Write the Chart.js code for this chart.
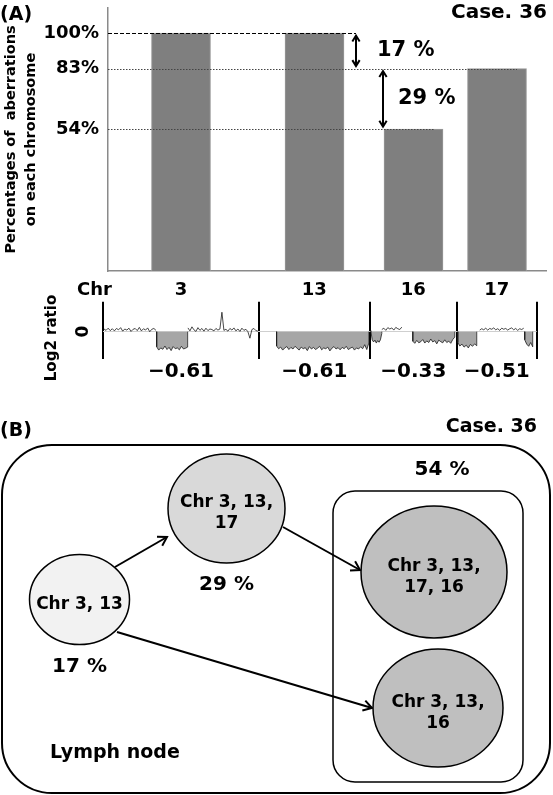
<!DOCTYPE html>
<html>
<head>
<meta charset="utf-8">
<script src="https://cdn.jsdelivr.net/npm/chart.js@4.4.0/dist/chart.umd.min.js"></script>
<style>
  body { margin: 0; background: #fff; }
  #wrap { position: relative; width: 553px; height: 795px; }
  canvas { position: absolute; left: 0; }
</style>
</head>
<body>
<div id="wrap">
  <canvas id="bars" width="553" height="276" style="top:0"></canvas>
  <canvas id="log2" width="553" height="119" style="top:276px"></canvas>
  <canvas id="tree" width="553" height="400" style="top:395px"></canvas>
</div>
<script>
// ---- data (A) ----
const chromosomes = ['3', '13', '16', '17'];
const aberrationPct = [100, 100, 54, 83];
const meanLog2 = [-0.61, -0.61, -0.33, -0.51];
const chrLength = [156, 111, 87, 80];   // relative length of each chromosome on the genome axis
const pctTicks = [100, 83, 54];
const stepLabels = ['17 %', '29 %'];

// copy-number segments: chromosome index, start/end inside chromosome, loss or not, log2 trace
const segChr  = [0, 0, 0, 1, 2, 2, 2, 3, 3, 3];
const segFrom = [1, 53.7, 85, 17.7, 1, 12, 43, 1, 23, 68];
const segTo   = [53, 84.7, 155, 110, 12, 32, 85, 20, 67, 76];
const segLoss = [false, true, false, true, true, false, true, true, false, true];
const segLog2 = [
  [0.10,0.05,0.13,0.04,0.11,0.03,0.12,0.07,0.15,0.02,0.10,0.06,0.13,0.01,0.09,0.12,0.04,0.16,0.03,0.11,0.06,0.14,0.00,0.09,0.12,0.05],
  [-0.56,-0.68,-0.60,-0.65,-0.53,-0.66,-0.58,-0.70,-0.55,-0.63,-0.60,-0.67,-0.54,-0.64,-0.61,-0.57],
  [0.14,0.03,0.18,0.07,0.01,0.15,0.05,0.12,0.02,0.13,0.04,0.10,0.08,0.03,0.12,0.06,0.10,0.72,0.05,0.09,0.02,0.12,0.06,0.14,0.03,0.10,0.01,0.13,0.05,0.09,0.00,-0.24,0.08,0.12,0.04,0.02],
  [-0.53,-0.63,-0.57,-0.68,-0.60,-0.55,-0.66,-0.58,-0.64,-0.54,-0.61,-0.68,-0.57,-0.63,-0.59,-0.70,-0.55,-0.64,-0.58,-0.66,-0.61,-0.54,-0.67,-0.60,-0.63,-0.57,-0.71,-0.61,-0.55,-0.64,-0.59,-0.67,-0.58,-0.63,-0.54,-0.66,-0.61,-0.57,-0.68,-0.60,-0.64,-0.56,-0.63,-0.48,-0.66,-0.42],
  [0.04,-0.30,-0.38,-0.31,-0.42,-0.33,-0.39,-0.30,-0.06],
  [0.08,0.13,0.05,0.15,0.10,0.14,0.06,0.16,0.11,0.08,0.17],
  [-0.35,-0.43,-0.32,-0.41,-0.37,-0.29,-0.42,-0.34,-0.40,-0.27,-0.38,-0.33,-0.45,-0.31,-0.37,-0.41,-0.30,-0.40,-0.35,-0.43,-0.29,-0.20],
  [-0.40,-0.53,-0.46,-0.57,-0.50,-0.60,-0.47,-0.54,-0.45,-0.52],
  [0.06,0.11,0.07,0.13,0.06,0.12,0.09,0.14,0.07,0.11,0.05,0.13,0.09,0.12,0.06,0.11,0.14,0.07,0.12,0.05,0.11,0.08,0.13],
  [-0.30,-0.46,-0.54,-0.40,-0.56]
];

// ---- data (B) ----
const nodeLabels = [['Chr 3, 13'], ['Chr 3, 13,', '17'], ['Chr 3, 13,', '17, 16'], ['Chr 3, 13,', '16']];
const nodePct = ['17 %', '29 %', '', ''];
const edgeFrom = [0, 1, 0];
const edgeTo = [1, 2, 3];
const groupPct = '54 %';

const FONT = '"DejaVu Sans", Verdana, sans-serif';

const chrStart = chrLength.map((_, i) => chrLength.slice(0, i).reduce((a, b) => a + b, 0));
const chrMid = chrStart.map((s, i) => s + chrLength[i] / 2);
const genomeEnd = chrStart[chrStart.length - 1] + chrLength[chrLength.length - 1];

function txt(ctx, s, x, y, size, align, rot) {
  ctx.save();
  ctx.translate(x, y);
  ctx.rotate(rot || 0);
  ctx.font = 'bold ' + size + 'px ' + FONT;
  ctx.fillStyle = '#000';
  ctx.textAlign = align || 'center';
  ctx.textBaseline = 'middle';
  ctx.fillText(s, 0, 0);
  ctx.restore();
}

function arrowHead(ctx, x1, y1, x2, y2, len) {
  const a = Math.atan2(y2 - y1, x2 - x1);
  ctx.beginPath();
  ctx.moveTo(x2 - len * Math.cos(a - 0.55), y2 - len * Math.sin(a - 0.55));
  ctx.lineTo(x2, y2);
  ctx.lineTo(x2 - len * Math.cos(a + 0.55), y2 - len * Math.sin(a + 0.55));
  ctx.stroke();
}

function noPad(s) {
  s.paddingTop = 0; s.paddingBottom = 0; s.paddingLeft = 0; s.paddingRight = 0;
}

// ---------- (A) bars ----------
const arrowAt = [253, 280];      // genome-axis position of the two step arrows
const labelShift = [21, 15];

const barNotes = {
  id: 'barNotes',
  afterDatasetsDraw(chart) {
    const { ctx, chartArea, scales: { x, y } } = chart;
    const meta = chart.getDatasetMeta(0);
    ctx.save();
    // reference lines
    pctTicks.forEach((lvl, k) => {
      const yy = Math.round(y.getPixelForValue(lvl)) + 0.5;
      let end;
      if (k === 0) end = x.getPixelForValue(arrowAt[0]);
      else end = meta.data[aberrationPct.lastIndexOf(lvl)].x + 20;
      ctx.beginPath();
      ctx.setLineDash(k === 0 ? [4, 2] : [1.5, 1.5]);
      ctx.strokeStyle = k === 0 ? '#000' : '#444';
      ctx.lineWidth = 1;
      ctx.moveTo(chartArea.left, yy);
      ctx.lineTo(end, yy);
      ctx.stroke();
    });
    ctx.setLineDash([]);
    // step arrows
    ctx.strokeStyle = '#000';
    ctx.lineWidth = 2;
    for (let k = 0; k < pctTicks.length - 1; k++) {
      const ax = x.getPixelForValue(arrowAt[k]);
      const y1 = y.getPixelForValue(pctTicks[k]) + 2.5;
      const y2 = y.getPixelForValue(pctTicks[k + 1]) - 2.5;
      ctx.beginPath();
      ctx.moveTo(ax, y1);
      ctx.lineTo(ax, y2);
      ctx.stroke();
      arrowHead(ctx, ax, y2, ax, y1, 7);
      arrowHead(ctx, ax, y1, ax, y2, 7);
      txt(ctx, stepLabels[k], ax + labelShift[k], (y1 + y2) / 2, 21, 'left');
    }
    txt(ctx, '(A)', 0, 15, 19, 'left');
    txt(ctx, 'Case. 36', 547, 13, 20, 'right');
    ctx.restore();
  }
};

new Chart(document.getElementById('bars'), {
  type: 'bar',
  data: {
    datasets: [{
      data: chromosomes.map((c, i) => ({ x: chrMid[i], y: aberrationPct[i] })),
      backgroundColor: '#7f7f7f',
      borderColor: '#999999',
      borderWidth: 1,
      barThickness: 59,
      base: -13.9
    }]
  },
  options: {
    responsive: false,
    animation: false,
    layout: { padding: { top: 8, right: 7, bottom: 5, left: 0 } },
    plugins: { legend: { display: false }, tooltip: { enabled: false } },
    scales: {
      x: {
        type: 'linear', min: 5, max: 443, offset: false,
        grid: { display: false, drawTicks: false },
        ticks: { display: false },
        border: { color: '#8a8a8a', width: 1.5 },
        afterFit(s) { s.height = 0; noPad(s); }
      },
      y: {
        min: -13.9, max: 112,
        grid: { display: false, drawTicks: false },
        border: { color: '#8a8a8a', width: 1.5 },
        afterBuildTicks(s) { s.ticks = pctTicks.map(v => ({ value: v })); },
        ticks: {
          callback: v => v + '%',
          color: '#000',
          padding: 9,
          font: { family: FONT, weight: 'bold', size: 18 }
        },
        title: {
          display: true,
          text: ['Percentages of  aberrations', 'on each chromosome'],
          color: '#000',
          font: { family: FONT, weight: 'bold', size: 14.5, lineHeight: 1.4 },
          padding: { top: 1, bottom: 0 }
        },
        afterFit(s) { s.width = 108; noPad(s); }
      }
    }
  },
  plugins: [barNotes]
});

// ---------- (A) log2 ratio ----------
const log2Sets = segLog2.map((vals, k) => {
  const s = chrStart[segChr[k]] + segFrom[k];
  const e = chrStart[segChr[k]] + segTo[k];
  const step = (e - s) / (vals.length - 1);
  let pts = vals.map((v, i) => ({ x: s + i * step, y: v }));
  if (segLoss[k]) pts = [{ x: s, y: 0 }].concat(pts, [{ x: e, y: 0 }]);
  return {
    data: pts,
    borderColor: '#1a1a1a',
    borderWidth: 0.8,
    pointRadius: 0,
    tension: 0,
    fill: segLoss[k] ? 'origin' : false,
    backgroundColor: '#a6a6a6'
  };
});

const log2Notes = {
  id: 'log2Notes',
  afterDatasetsDraw(chart) {
    const { ctx, scales: { x, y } } = chart;
    txt(ctx, 'Chr', 77, 14, 18, 'left');
    chromosomes.forEach((c, i) => {
      const cx = x.getPixelForValue(chrMid[i]);
      txt(ctx, c, cx, 14, 18);
      txt(ctx, meanLog2[i].toFixed(2).replace('-', '\u2212'), cx, 96, 20);
    });
    txt(ctx, 'Log2 ratio', 52, 62, 15, 'center', -Math.PI / 2);
    txt(ctx, '0', 84, y.getPixelForValue(0), 17, 'center', -Math.PI / 2);
  }
};

new Chart(document.getElementById('log2'), {
  type: 'line',
  data: { datasets: log2Sets },
  options: {
    responsive: false,
    animation: false,
    layout: { padding: { top: 25.7, right: 16.3, bottom: 36, left: 0 } },
    plugins: { legend: { display: false }, tooltip: { enabled: false } },
    scales: {
      x: {
        type: 'linear', min: 0, max: genomeEnd,
        grid: { color: '#000', lineWidth: 2, drawTicks: false },
        border: { display: false },
        ticks: { display: false },
        afterBuildTicks(s) { s.ticks = chrStart.concat([genomeEnd]).map(v => ({ value: v })); },
        afterFit(s) { s.height = 0; noPad(s); }
      },
      y: {
        min: -1.01, max: 1.11,
        grid: { color: '#cfcfcf', lineWidth: 1, drawTicks: false },
        border: { display: false },
        ticks: { display: false },
        afterBuildTicks(s) { s.ticks = [{ value: 0 }]; },
        afterFit(s) { s.width = 103; noPad(s); }
      }
    }
  },
  plugins: [log2Notes]
});

// ---------- (B) clonal evolution ----------
const nodeX = [79.5, 226.5, 434, 438];
const nodeY = [204.5, 113.5, 177, 313];
const nodeRx = [50, 58.5, 73, 65];
const nodeRy = [45, 54.5, 66, 59];
const nodeFill = ['#f2f2f2', '#d9d9d9', '#bfbfbf', '#bfbfbf'];
// arrow start / end points in diagram units
const edgeStart = [[115, 172], [283, 132], [117, 237]];
const edgeEnd = [[167, 142], [360, 175], [372, 313]];

const treeDraw = {
  id: 'treeDraw',
  afterDatasetsDraw(chart) {
    const { ctx, scales: { x, y } } = chart;
    const px = v => x.getPixelForValue(v);
    const py = v => y.getPixelForValue(v);
    const pts = chart.getDatasetMeta(0).data;
    ctx.save();
    ctx.strokeStyle = '#000';
    // outer tissue box and inner group box
    ctx.lineWidth = 2;
    ctx.beginPath();
    ctx.roundRect(px(2), py(50), px(550) - px(2), py(398) - py(50), 50);
    ctx.stroke();
    ctx.lineWidth = 1.5;
    ctx.beginPath();
    ctx.roundRect(px(333), py(96), px(523) - px(333), py(387) - py(96), 22);
    ctx.stroke();
    // edges
    ctx.lineWidth = 2;
    edgeFrom.forEach((f, k) => {
      const x1 = px(edgeStart[k][0]), y1 = py(edgeStart[k][1]);
      const x2 = px(edgeEnd[k][0]), y2 = py(edgeEnd[k][1]);
      ctx.beginPath();
      ctx.moveTo(x1, y1);
      ctx.lineTo(x2, y2);
      ctx.stroke();
      arrowHead(ctx, x1, y1, x2, y2, 10);
    });
    // nodes
    pts.forEach((p, i) => {
      ctx.beginPath();
      ctx.ellipse(p.x, p.y, nodeRx[i], nodeRy[i], 0, 0, Math.PI * 2);
      ctx.fillStyle = nodeFill[i];
      ctx.fill();
      ctx.lineWidth = 1.5;
      ctx.stroke();
      const lines = nodeLabels[i];
      lines.forEach((ln, j) => {
        const off = (j - (lines.length - 1) / 2) * 21 + 5;
        txt(ctx, ln, p.x, p.y + off, 17);
      });
      if (nodePct[i]) txt(ctx, nodePct[i], p.x, p.y + nodeRy[i] + 22, 20);
    });
    txt(ctx, groupPct, px(442), py(75), 20);
    txt(ctx, 'Lymph node', px(50), py(358), 19, 'left');
    txt(ctx, '(B)', 0, py(36), 19, 'left');
    txt(ctx, 'Case. 36', px(537), py(32), 19, 'right');
    ctx.restore();
  }
};

new Chart(document.getElementById('tree'), {
  type: 'scatter',
  data: {
    datasets: [{ data: nodeX.map((v, i) => ({ x: v, y: nodeY[i] })), pointRadius: 0 }]
  },
  options: {
    responsive: false,
    animation: false,
    layout: { padding: 0 },
    plugins: { legend: { display: false }, tooltip: { enabled: false } },
    scales: {
      x: { type: 'linear', display: false, min: 0, max: 553 },
      y: { type: 'linear', display: false, min: 0, max: 400, reverse: true }
    }
  },
  plugins: [treeDraw]
});
</script>
</body>
</html>
